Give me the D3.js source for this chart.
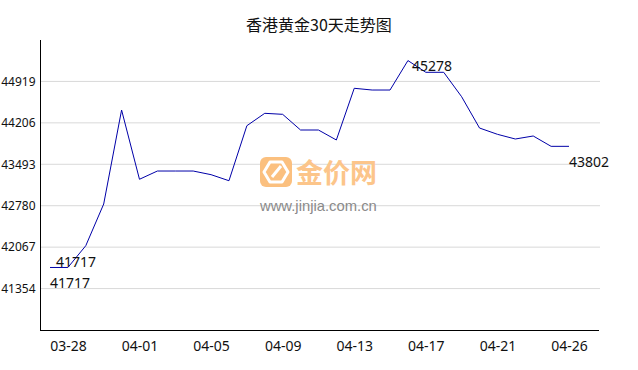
<!DOCTYPE html>
<html>
<head>
<meta charset="utf-8">
<script src="https://cdn.jsdelivr.net/npm/d3@7"></script>
<style>
  body { margin: 0; background: #fff; }
  svg text { font-family: "Noto Sans", "Open Sans", sans-serif; fill: #111; }
</style>
</head>
<body>
<div id="chart"></div>
<script>
var svgWidth = 638;
var svgHeight = 370;

// 30 days of prices
var dates = ["03-27", "03-28", "03-29", "03-30", "03-31", "04-01", "04-02", "04-03", "04-04", "04-05",
  "04-06", "04-07", "04-08", "04-09", "04-10", "04-11", "04-12", "04-13", "04-14", "04-15",
  "04-16", "04-17", "04-18", "04-19", "04-20", "04-21", "04-22", "04-23", "04-24", "04-26"];
var prices = [41717, 41717, 42092, 42809, 44427, 43235, 43377, 43377, 43377, 43314,
  43210, 44157, 44370, 44353, 44083, 44083, 43911, 44801, 44771, 44771,
  45278, 45076, 45076, 44656, 44117, 44009, 43928, 43980, 43802, 43802];
var yTicks = [41354, 42067, 42780, 43493, 44206, 44919];
var xTicks = ["03-28", "04-01", "04-05", "04-09", "04-13", "04-17", "04-21", "04-26"];
var yDomain = [40641, 45632];

var data = dates.map(function(d, i) { return { date: d, price: prices[i] }; });

var svg = d3.select("#chart")
  .append("svg")
  .attr("width", svgWidth)
  .attr("height", svgHeight);

// scales
var xScale = d3.scalePoint()
  .domain(dates)
  .range([50, 569]);

var yScale = d3.scaleLinear()
  .domain(yDomain)
  .range([330, 40]);

// grid lines
svg.append("g")
  .selectAll("line")
  .data(yTicks)
  .enter()
  .append("line")
  .attr("x1", 40)
  .attr("x2", 600)
  .attr("y1", d => yScale(d))
  .attr("y2", d => yScale(d))
  .attr("stroke", "#d9d9d9")
  .attr("stroke-width", 1);

// watermark
var wm = svg.append("g");
wm.append("rect")
  .attr("x", 260).attr("y", 157)
  .attr("width", 32).attr("height", 30)
  .attr("rx", 6)
  .attr("fill", "#fbc07f");
wm.append("path")
  .attr("d", "M270,162 L282,162 L288,172 L282,182 L270,182 L264,172 Z M272,177 L281,166")
  .attr("fill", "none")
  .attr("stroke", "#fff")
  .attr("stroke-width", 3)
  .attr("stroke-linejoin", "round");
wm.append("text")
  .attr("x", 296).attr("y", 183)
  .style("font-family", "'Noto Sans CJK SC', sans-serif")
  .style("font-size", "27px")
  .style("font-weight", "bold")
  .style("fill", "#fcc58a")
  .text("金价网");
wm.append("text")
  .attr("x", 260).attr("y", 211)
  .style("font-family", "'Liberation Sans', Arial, sans-serif")
  .style("font-size", "14.8px")
  .style("fill", "#8a8a8a")
  .text("www.jinjia.com.cn");

// axes
var bottomAxis = d3.axisBottom(xScale)
  .tickValues(xTicks)
  .tickSize(0)
  .tickPadding(11);
var leftAxis = d3.axisLeft(yScale)
  .tickValues(yTicks)
  .tickFormat(d3.format("d"))
  .tickSize(0)
  .tickPadding(5);

var xg = svg.append("g")
  .attr("transform", "translate(0, 330)")
  .call(bottomAxis);
xg.select(".domain").attr("d", "M40,0.5H599").attr("stroke", "#000");
xg.selectAll("text").style("font-size", "14px").style("fill", "#111");

var yg = svg.append("g")
  .attr("transform", "translate(40.5, 0)")
  .call(leftAxis);
yg.select(".domain").attr("d", "M0,40V330").attr("stroke", "#000");
yg.selectAll("text").style("font-size", "12px").style("fill", "#111");

// price line
var line = d3.line()
  .x(d => xScale(d.date))
  .y(d => yScale(d.price));

svg.append("path")
  .datum(data)
  .attr("d", line)
  .attr("fill", "none")
  .attr("stroke", "#0000a8")
  .attr("stroke-width", 1);

// value labels: first, min, max, last
var maxIdx = d3.maxIndex(prices);
var minIdx = d3.minIndex(prices);
var lastIdx = prices.length - 1;
var labels = [
  { i: 0, dx: 0, dy: 21 },
  { i: minIdx, dx: 6, dy: 0 },
  { i: maxIdx, dx: 4, dy: 10 },
  { i: lastIdx, dx: 0, dy: 21 }
];

svg.append("g")
  .selectAll("text")
  .data(labels)
  .enter()
  .append("text")
  .attr("x", d => xScale(dates[d.i]) + d.dx)
  .attr("y", d => yScale(prices[d.i]) + d.dy)
  .style("font-size", "14px")
  .text(d => prices[d.i]);

// title
svg.append("text")
  .attr("x", 319)
  .attr("y", 31)
  .attr("text-anchor", "middle")
  .style("font-family", "'Noto Sans CJK SC', sans-serif")
  .style("font-size", "16px")
  .style("fill", "#111")
  .text("香港黄金30天走势图");
</script>
</body>
</html>
